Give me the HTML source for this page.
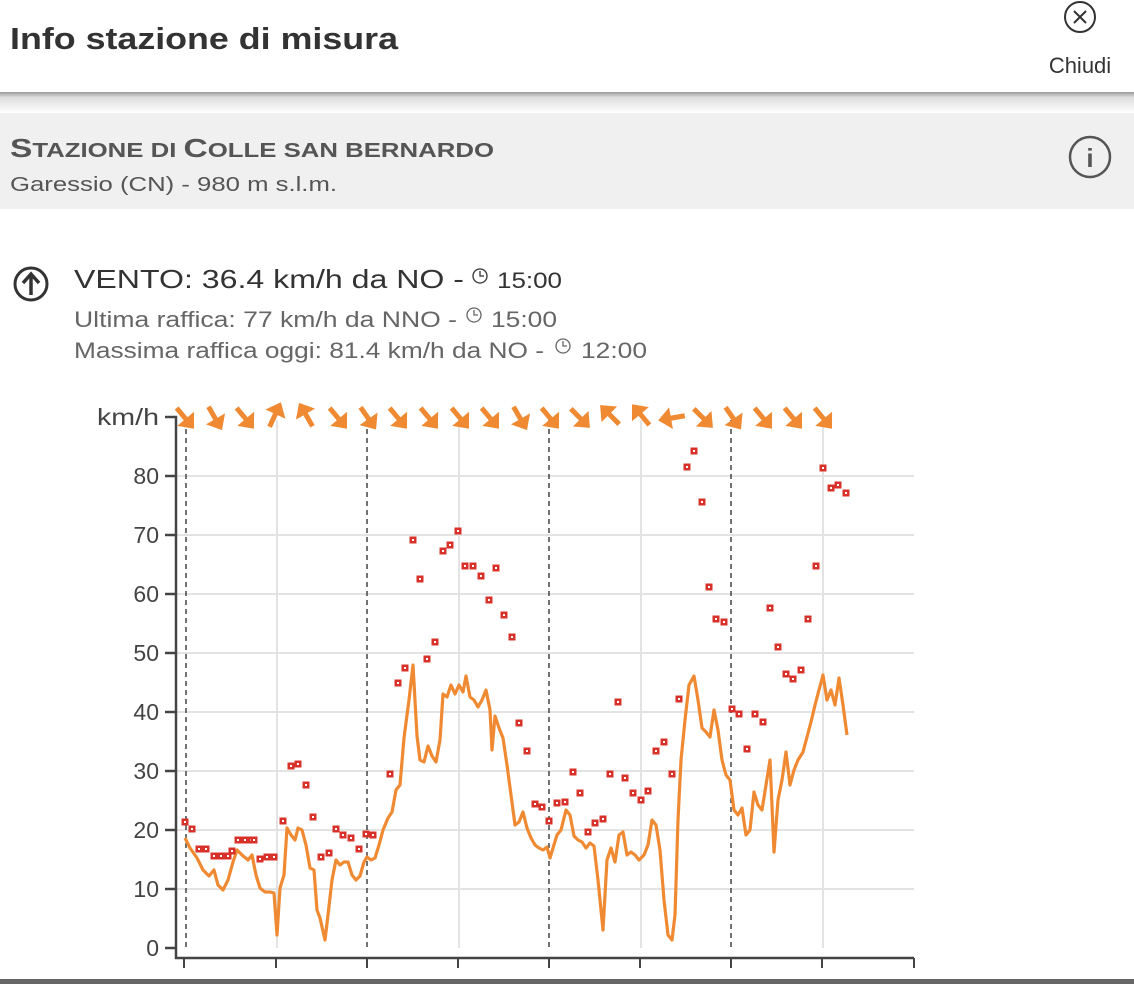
<!DOCTYPE html>
<html><head><meta charset="utf-8"><style>
html,body{margin:0;padding:0;width:1134px;height:984px;overflow:hidden;background:#fff;font-family:"Liberation Sans",sans-serif}
</style></head><body>
<svg width="1134" height="984" viewBox="0 0 1134 984" xmlns="http://www.w3.org/2000/svg" font-family="Liberation Sans, sans-serif">
<defs>
<linearGradient id="sh" x1="0" y1="0" x2="0" y2="1"><stop offset="0" stop-color="#999"/><stop offset="0.25" stop-color="#ddd"/><stop offset="1" stop-color="#fff"/></linearGradient>
<g id="ar"><polygon points="0,-14 -11,-1 11,-1" fill="#ef8a33"/><rect x="-2.5" y="-3" width="5" height="16" fill="#ef8a33"/></g>
<g id="sq"><rect x="-3.5" y="-3.5" width="7" height="7" fill="#d8312a"/><rect x="-1" y="-1" width="2" height="2" fill="#fff"/></g>
</defs>
<!-- header -->
<text x="10" y="49" font-size="31" font-weight="bold" fill="#333" textLength="388" lengthAdjust="spacingAndGlyphs">Info stazione di misura</text>
<circle cx="1080" cy="17" r="15" fill="none" stroke="#333" stroke-width="2"/>
<path d="M1074 11 L1086 23 M1086 11 L1074 23" stroke="#333" stroke-width="2"/>
<text x="1080" y="73" font-size="22" text-anchor="middle" fill="#333">Chiudi</text>
<rect x="0" y="92" width="1134" height="21" fill="url(#sh)"/>
<rect x="0" y="113" width="1134" height="96" fill="#f0f0f0"/>
<text x="10" y="157" font-size="26" font-weight="bold" fill="#555" textLength="484" lengthAdjust="spacingAndGlyphs">S<tspan font-size="20">TAZIONE DI </tspan>C<tspan font-size="20">OLLE SAN BERNARDO</tspan></text>
<text x="10" y="191" font-size="20" fill="#555" textLength="327" lengthAdjust="spacingAndGlyphs">Garessio (CN) - 980 m s.l.m.</text>
<circle cx="1090" cy="157" r="20" fill="none" stroke="#555" stroke-width="2.5"/>
<text x="1090" y="167" font-size="26" font-weight="bold" text-anchor="middle" fill="#555">i</text>
<!-- vento -->
<circle cx="31" cy="284" r="16" fill="none" stroke="#333" stroke-width="3"/>
<path d="M31 295 V275 M23 283 L31 274 L39 283" fill="none" stroke="#333" stroke-width="3.5"/>
<text x="74" y="288" font-size="26" fill="#333" textLength="390" lengthAdjust="spacingAndGlyphs">VENTO: 36.4 km/h da NO -</text>
<circle cx="480" cy="276" r="7" fill="none" stroke="#333" stroke-width="1.3"/><path d="M480 271 V276 H484" fill="none" stroke="#333" stroke-width="1.3"/>
<text x="497" y="288" font-size="22" fill="#333" textLength="65" lengthAdjust="spacingAndGlyphs">15:00</text>
<text x="74" y="327" font-size="22" fill="#666" textLength="383" lengthAdjust="spacingAndGlyphs">Ultima raffica: 77 km/h da NNO -</text>
<circle cx="474" cy="315" r="7" fill="none" stroke="#666" stroke-width="1.3"/><path d="M474 310 V315 H478" fill="none" stroke="#666" stroke-width="1.3"/>
<text x="491" y="327" font-size="22" fill="#666" textLength="66" lengthAdjust="spacingAndGlyphs">15:00</text>
<text x="74" y="358" font-size="22" fill="#666" textLength="470" lengthAdjust="spacingAndGlyphs">Massima raffica oggi: 81.4 km/h da NO -</text>
<circle cx="563" cy="346" r="7" fill="none" stroke="#666" stroke-width="1.3"/><path d="M563 341 V346 H567" fill="none" stroke="#666" stroke-width="1.3"/>
<text x="581" y="358" font-size="22" fill="#666" textLength="66" lengthAdjust="spacingAndGlyphs">12:00</text>
<!-- grid -->
<g stroke="#e3e3e3" stroke-width="2">
<line x1="177" x2="914" y1="889" y2="889"/><line x1="177" x2="914" y1="830" y2="830"/><line x1="177" x2="914" y1="771" y2="771"/><line x1="177" x2="914" y1="712" y2="712"/><line x1="177" x2="914" y1="653" y2="653"/><line x1="177" x2="914" y1="594" y2="594"/><line x1="177" x2="914" y1="535" y2="535"/><line x1="177" x2="914" y1="476" y2="476"/>
<line x1="277" x2="277" y1="420" y2="948"/><line x1="459" x2="459" y1="420" y2="948"/><line x1="641" x2="641" y1="420" y2="948"/><line x1="823" x2="823" y1="420" y2="948"/>
</g>
<g stroke="#444" stroke-width="1.5" stroke-dasharray="5,4">
<line x1="186" x2="186" y1="420" y2="948"/><line x1="367" x2="367" y1="420" y2="948"/><line x1="549" x2="549" y1="420" y2="948"/><line x1="731" x2="731" y1="420" y2="948"/>
</g>
<!-- axes -->
<g stroke="#444" stroke-width="2.5" fill="none">
<path d="M165 417 H176 V958 H914"/>
<path d="M165 476H176M165 535H176M165 594H176M165 653H176M165 712H176M165 771H176M165 830H176M165 889H176M165 948H176"/>
<path d="M184 958V968M276 958V968M367 958V968M458 958V968M549 958V968M640 958V968M731 958V968M822 958V968M914 958V968" stroke-width="2"/>
</g>
<g font-size="23" fill="#444" text-anchor="end">
<text x="159" y="425" textLength="62" lengthAdjust="spacingAndGlyphs">km/h</text><text x="159" y="484">80</text><text x="159" y="543">70</text><text x="159" y="602">60</text><text x="159" y="661">50</text><text x="159" y="720">40</text><text x="159" y="779">30</text><text x="159" y="838">20</text><text x="159" y="897">10</text><text x="159" y="956">0</text>
</g>
<rect x="0" y="979" width="1134" height="5" fill="#666"/>
<!-- line -->
<polyline fill="none" stroke="#ef8a33" stroke-width="3.2" stroke-linejoin="round" points="185,838 190,848 197,858 203,870 209,876 214,870 218,885 223,890 228,880 233,862 237,850 242,855 248,860 252,855 256,875 260,888 265,892 270,892 274,893 277,935 280,888 284,875 287,828 291,835 295,840 298,828 302,830 306,845 310,868 314,870 317,910 320,918 325,940 328,915 332,880 336,860 340,865 344,862 348,862 352,875 356,880 360,876 364,862 367,857 371,860 375,858 379,845 383,830 388,818 392,812 396,790 400,785 404,738 409,700 413,665 417,736 420,760 424,762 428,746 432,756 436,762 440,740 443,694 447,697 451,685 455,694 459,685 463,692 466,676 470,697 474,700 478,707 482,700 486,690 490,710 492,750 495,716 499,728 503,738 507,765 511,795 515,825 519,822 523,812 527,828 531,838 535,845 539,848 543,850 547,847 550,858 553,848 557,835 561,830 566,810 570,815 574,836 578,840 582,842 586,848 590,843 594,846 598,880 603,930 607,860 611,848 615,862 619,835 623,832 627,855 631,852 635,855 639,860 644,855 648,845 652,820 656,825 660,850 664,900 668,935 672,940 675,915 678,820 681,760 685,720 689,685 694,676 698,700 702,728 706,732 710,737 714,710 718,730 722,760 726,775 730,780 734,810 738,815 742,808 746,835 750,830 754,792 758,805 762,810 766,785 770,760 774,852 778,800 782,780 786,752 790,785 794,770 798,760 803,752 807,737 811,722 815,705 819,690 823,675 827,700 831,690 835,705 839,678 843,705 847,735"/>
<!-- gusts -->
<g>
<use href="#sq" x="185" y="822"/><use href="#sq" x="192" y="829"/><use href="#sq" x="199" y="849"/><use href="#sq" x="206" y="849"/><use href="#sq" x="214" y="856"/><use href="#sq" x="221" y="856"/><use href="#sq" x="228" y="856"/><use href="#sq" x="232" y="851"/><use href="#sq" x="238" y="840"/><use href="#sq" x="245" y="840"/><use href="#sq" x="251" y="840"/><use href="#sq" x="254" y="840"/><use href="#sq" x="260" y="859"/><use href="#sq" x="267" y="857"/><use href="#sq" x="274" y="857"/><use href="#sq" x="283" y="821"/><use href="#sq" x="291" y="766"/><use href="#sq" x="298" y="764"/><use href="#sq" x="306" y="785"/><use href="#sq" x="313" y="817"/><use href="#sq" x="321" y="857"/><use href="#sq" x="329" y="853"/><use href="#sq" x="336" y="829"/><use href="#sq" x="343" y="835"/><use href="#sq" x="351" y="838"/><use href="#sq" x="359" y="849"/><use href="#sq" x="366" y="834"/><use href="#sq" x="373" y="835"/><use href="#sq" x="390" y="774"/><use href="#sq" x="398" y="683"/><use href="#sq" x="405" y="668"/><use href="#sq" x="413" y="540"/><use href="#sq" x="420" y="579"/><use href="#sq" x="427" y="659"/><use href="#sq" x="435" y="642"/><use href="#sq" x="443" y="551"/><use href="#sq" x="450" y="545"/><use href="#sq" x="458" y="531"/><use href="#sq" x="465" y="566"/><use href="#sq" x="473" y="566"/><use href="#sq" x="481" y="576"/><use href="#sq" x="489" y="600"/><use href="#sq" x="496" y="568"/><use href="#sq" x="504" y="615"/><use href="#sq" x="512" y="637"/><use href="#sq" x="519" y="723"/><use href="#sq" x="527" y="751"/><use href="#sq" x="535" y="804"/><use href="#sq" x="542" y="807"/><use href="#sq" x="549" y="821"/><use href="#sq" x="557" y="803"/><use href="#sq" x="565" y="802"/><use href="#sq" x="573" y="772"/><use href="#sq" x="580" y="793"/><use href="#sq" x="588" y="832"/><use href="#sq" x="595" y="823"/><use href="#sq" x="603" y="819"/><use href="#sq" x="610" y="774"/><use href="#sq" x="618" y="702"/><use href="#sq" x="625" y="778"/><use href="#sq" x="633" y="793"/><use href="#sq" x="641" y="800"/><use href="#sq" x="648" y="791"/><use href="#sq" x="656" y="751"/><use href="#sq" x="664" y="742"/><use href="#sq" x="672" y="774"/><use href="#sq" x="679" y="699"/><use href="#sq" x="687" y="467"/><use href="#sq" x="694" y="451"/><use href="#sq" x="702" y="502"/><use href="#sq" x="709" y="587"/><use href="#sq" x="716" y="619"/><use href="#sq" x="724" y="622"/><use href="#sq" x="732" y="709"/><use href="#sq" x="739" y="714"/><use href="#sq" x="747" y="749"/><use href="#sq" x="755" y="714"/><use href="#sq" x="763" y="722"/><use href="#sq" x="770" y="608"/><use href="#sq" x="778" y="647"/><use href="#sq" x="786" y="674"/><use href="#sq" x="793" y="679"/><use href="#sq" x="801" y="670"/><use href="#sq" x="808" y="619"/><use href="#sq" x="816" y="566"/><use href="#sq" x="823" y="468"/><use href="#sq" x="831" y="488"/><use href="#sq" x="838" y="485"/><use href="#sq" x="846" y="493"/>
</g>
<!-- arrows -->
<use href="#ar" transform="translate(185,418) rotate(140)"/>
<use href="#ar" transform="translate(215,418) rotate(150)"/>
<use href="#ar" transform="translate(245,418) rotate(140)"/>
<use href="#ar" transform="translate(275,415) rotate(25)"/>
<use href="#ar" transform="translate(306,415) rotate(-30)"/>
<use href="#ar" transform="translate(338,418) rotate(140)"/>
<use href="#ar" transform="translate(368,418) rotate(145)"/>
<use href="#ar" transform="translate(398,418) rotate(140)"/>
<use href="#ar" transform="translate(429,418) rotate(140)"/>
<use href="#ar" transform="translate(460,418) rotate(140)"/>
<use href="#ar" transform="translate(490,418) rotate(140)"/>
<use href="#ar" transform="translate(520,418) rotate(150)"/>
<use href="#ar" transform="translate(550,418) rotate(140)"/>
<use href="#ar" transform="translate(580,418) rotate(135)"/>
<use href="#ar" transform="translate(610,415) rotate(-45)"/>
<use href="#ar" transform="translate(641,415) rotate(-40)"/>
<use href="#ar" transform="translate(672,418) rotate(-100)"/>
<use href="#ar" transform="translate(703,418) rotate(135)"/>
<use href="#ar" transform="translate(733,418) rotate(145)"/>
<use href="#ar" transform="translate(763,418) rotate(140)"/>
<use href="#ar" transform="translate(793,418) rotate(140)"/>
<use href="#ar" transform="translate(823,418) rotate(140)"/>
</svg>
</body></html>
